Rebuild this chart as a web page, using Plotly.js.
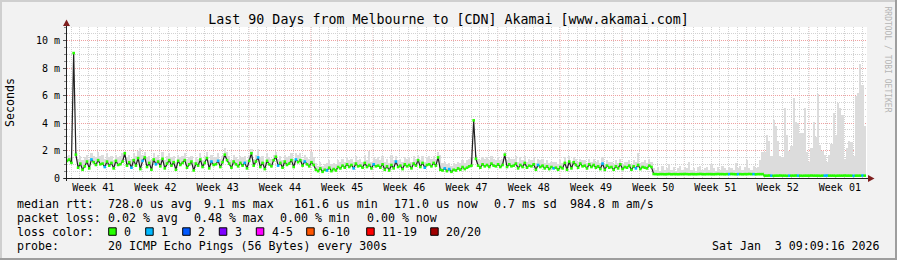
<!DOCTYPE html>
<html>
<head>
<meta charset="utf-8">
<script src="https://cdn.plot.ly/plotly-3.0.1.min.js"></script>
<style>
html,body{margin:0;padding:0;background:#f2f2f2;}
#chart{width:897px;height:260px;}
</style>
</head>
<body>
<div id="chart"></div>
<script>
// ---------------- DATA ----------------
// one sample every 6 hours (0.25 day), 90 days -> 360 samples, values in ms
const stepDays = 0.25;

const median = [
  1.25,1.35,1.1,9.1,1.7,0.75,1.05,0.6,0.85,1.2,0.7,1.35,1.15,0.95,1.3,1.0,1.05,0.8,1.2,0.9,1.1,0.7,1.25,0.95,1.0,1.2,1.8,0.9,
  1.15,0.75,1.3,0.9,1.45,0.65,1.25,1.5,0.8,1.1,0.6,1.35,1.0,1.2,0.85,1.4,0.7,1.05,1.3,0.9,1.15,0.6,1.25,0.95,1.1,1.3,0.75,1.0,
  1.2,0.55,1.05,0.9,1.35,0.8,1.1,1.45,0.7,1.2,0.95,1.0,1.25,0.8,1.15,1.7,1.3,1.05,0.75,1.2,1.0,0.85,1.1,0.9,1.1,0.7,1.25,1.8,
  0.9,1.2,1.5,0.8,1.1,0.65,1.25,1.0,0.85,1.3,1.55,0.9,1.1,0.75,1.2,0.95,1.05,1.3,0.8,1.35,1.15,1.3,0.9,1.2,1.0,0.85,1.15,0.95,
  0.6,0.5,0.7,0.45,0.6,0.55,0.75,0.5,0.65,0.55,0.8,0.7,0.9,0.75,1.0,0.8,0.95,0.7,1.05,0.85,0.9,0.75,1.1,0.8,0.95,0.7,1.0,0.85,
  0.9,0.75,1.0,0.6,0.85,0.55,0.95,0.7,1.2,0.8,0.9,0.65,1.0,0.85,0.95,0.7,1.05,0.9,1.3,0.8,1.1,0.75,0.95,1.0,0.85,1.1,0.9,1.5,
  0.6,0.55,0.7,0.5,0.65,0.45,0.6,0.55,0.7,0.6,0.8,0.65,0.75,0.85,0.9,4.2,1.4,0.9,0.75,1.0,0.85,0.95,0.8,1.05,0.9,0.85,1.0,0.8,
  0.95,1.7,0.8,1.0,0.85,0.9,1.05,0.7,0.95,0.8,1.1,0.75,0.9,0.85,1.0,0.6,0.95,0.8,0.9,0.7,0.85,0.65,0.8,0.7,0.75,0.6,0.8,0.7,
  1.1,0.6,1.2,0.7,1.15,0.95,0.75,1.05,0.85,0.9,0.7,1.0,0.8,0.95,0.75,0.85,0.65,1.05,0.6,0.9,0.75,0.8,0.6,0.85,0.7,1.0,0.65,0.8,
  0.75,0.9,0.6,0.85,0.7,0.95,0.65,0.8,0.75,0.7,0.9,0.8,
  0.29,0.28,0.27,0.28,0.28,0.27,0.28,0.29,0.27,0.28,0.28,0.27,0.28,0.28,0.29,0.28,0.27,0.28,0.28,0.27,
  0.28,0.29,0.28,0.27,0.28,0.28,0.28,0.27,0.28,0.29,0.28,0.28,0.27,0.28,0.28,0.29,0.28,0.27,0.28,0.28,
  0.27,0.28,0.28,0.29,0.28,0.28,0.27,0.28,0.28,0.28,
  0.17,0.17,0.18,0.17,0.16,0.17,0.17,0.18,0.17,0.17,0.16,0.17,0.17,0.17,0.18,0.17,0.17,0.16,0.17,0.17,
  0.17,0.18,0.17,0.17,0.17,0.16,0.17,0.17,0.18,0.17,0.17,0.17,0.16,0.17,0.17,0.17,0.18,0.17,0.17,0.17,
  0.16,0.17,0.17,0.17,0.18,0.17
];

// top of the grey "smoke" (slowest pings) per sample, ms
const smokeTop = [
  1.6,1.7,1.5,9.1,1.9,1.4,1.6,1.3,1.5,1.7,1.4,1.8,1.6,1.5,1.9,1.6,1.7,1.4,1.8,1.5,1.6,1.3,1.7,1.5,1.6,1.8,2.0,1.5,
  1.7,1.4,1.8,1.6,2.0,2.2,1.7,1.9,1.5,1.6,1.3,1.8,1.5,1.7,1.4,1.9,1.3,1.6,1.8,1.5,1.6,1.2,1.7,1.5,1.6,1.8,1.4,1.5,
  1.6,1.2,1.5,1.4,1.8,1.3,1.6,1.9,1.3,1.7,1.5,1.5,1.8,1.4,1.6,2.2,1.9,1.6,1.3,1.7,1.5,1.4,1.6,1.5,1.6,1.3,1.7,2.1,
  1.4,1.7,2.1,1.5,1.6,1.2,1.8,1.5,1.4,1.7,1.9,1.4,1.6,1.3,1.7,1.5,1.6,1.8,1.3,1.8,1.7,1.8,1.4,1.7,1.5,1.4,1.9,1.5,
  1.1,0.9,1.2,0.9,1.0,1.1,1.3,1.0,1.1,1.0,1.3,1.2,1.4,1.2,1.5,1.3,1.4,1.2,1.6,1.3,1.4,1.2,1.7,1.3,2.0,1.2,1.5,1.4,
  1.5,1.3,1.6,1.2,1.4,1.1,1.7,1.3,1.6,1.3,1.4,1.2,1.5,1.4,1.5,1.2,1.6,1.4,1.7,1.3,1.6,1.2,1.5,1.6,1.4,1.6,1.4,1.9,
  1.7,1.1,1.2,1.0,1.1,0.9,1.1,1.0,1.2,1.1,1.3,1.1,1.3,1.4,1.5,4.2,1.7,1.4,1.3,1.5,1.4,1.5,1.3,1.6,1.4,1.3,1.5,1.3,
  1.4,1.9,1.3,1.5,1.4,1.4,1.6,1.2,1.5,1.3,1.6,1.2,1.4,1.3,1.5,1.1,1.4,1.3,1.4,1.1,1.3,1.1,1.2,1.2,1.2,1.0,1.3,1.1,
  1.5,1.2,1.6,1.2,1.5,1.4,1.2,1.4,1.3,1.3,1.1,1.4,1.2,1.4,1.2,1.3,1.1,1.5,1.0,1.3,1.2,1.2,1.0,1.3,1.1,1.4,1.0,1.2,
  1.2,1.3,1.0,1.3,1.2,1.8,1.1,1.2,1.3,1.1,1.4,1.2,
  0.7,0.6,0.8,0.5,0.9,0.6,0.7,1.0,0.6,0.8,0.5,0.7,0.9,0.6,0.8,0.7,1.2,0.6,0.7,0.5,
  0.8,0.9,0.6,0.7,0.8,0.6,1.0,0.7,0.5,0.8,0.6,0.9,0.7,0.6,0.8,0.7,0.6,1.1,0.7,0.9,
  0.6,0.8,1.3,0.7,0.6,0.9,0.7,0.8,1.3,1.9,
  1.9,3.1,2.7,1.6,4.2,3.8,2.7,1.6,1.5,5.1,3.1,2.0,2.3,5.8,4.1,4.0,3.3,3.3,5.1,1.9,
  1.2,2.2,4.1,3.0,6.1,2.4,2.0,1.7,1.2,1.7,2.5,4.7,3.1,5.5,5.1,4.6,1.4,2.2,2.7,2.6,
  1.6,6.0,6.2,8.3,6.8,3.8
];

// packet loss level per sample (index into lossColors)
const loss = [
  0,0,0,0,0,0,0,0,0,0,0,1,0,0,0,0,0,1,0,0,0,0,0,0,0,0,0,0,
  0,1,0,0,0,0,1,0,0,0,0,0,1,0,0,0,0,0,0,0,0,0,0,0,0,0,0,0,
  0,0,0,0,0,0,0,0,0,1,0,0,1,0,0,0,0,0,0,0,0,0,0,0,1,0,0,0,
  0,0,1,0,0,0,0,0,0,0,0,1,0,0,0,0,0,0,0,1,0,0,0,1,0,0,0,0,
  0,0,0,0,0,1,0,0,0,0,0,0,0,0,0,0,0,1,0,0,0,0,0,0,0,0,1,0,
  0,0,0,0,0,0,0,0,1,0,0,0,0,0,0,0,0,0,0,0,0,1,0,0,0,0,0,0,
  0,0,1,0,1,0,0,0,0,0,0,0,0,0,0,0,0,0,0,0,0,0,0,0,0,0,0,0,
  0,0,0,0,0,0,0,0,0,0,0,0,0,0,0,0,1,0,0,0,0,0,0,1,0,0,0,0,
  0,0,0,0,0,0,0,0,0,0,0,0,0,0,0,0,0,1,0,0,0,0,0,0,0,0,0,0,
  0,0,0,0,1,0,0,0,0,0,0,0,
  0,0,0,0,0,0,0,0,0,0,0,0,0,0,0,0,0,0,0,0,0,0,0,0,0,0,0,0,0,0,
  0,0,0,0,1,0,0,0,1,0,0,0,0,0,0,1,0,0,0,0,
  0,0,0,1,0,0,0,0,0,0,0,1,0,0,0,1,0,0,0,0,0,0,0,0,0,0,0,1,1,0,
  0,0,0,0,0,0,0,0,0,0,1,0,0,0,1,0
];

const lossLabels = ['0','1','2','3','4-5','6-10','11-19','20/20'];
const lossColors = ['#26ff00','#00b8ff','#0059ff','#7e00ff','#ff00ff','#ff5500','#ff0000','#a00000'];

const weekLabels = ['Week 41','Week 42','Week 43','Week 44','Week 45','Week 46','Week 47',
                    'Week 48','Week 49','Week 50','Week 51','Week 52','Week 01'];
const weekMid    = [2.95,9.95,16.95,23.95,30.95,37.95,44.95,51.95,58.95,65.95,72.95,79.95,86.95];
const weekStarts = [6.45,13.45,20.45,27.45,34.45,41.45,48.45,55.45,62.45,69.45,76.45,83.45];

const yTickVals = [0,2,4,6,8,10];
const yTickText = ['0','2 m','4 m','6 m','8 m','10 m'];

const titleText = 'Last 90 Days from Melbourne to [CDN] Akamai [www.akamai.com]';
const rttStats  = ['728.0 us avg','9.1 ms max','161.6 us min','171.0 us now','0.7 ms sd','984.8 m am/s'];
const lossStats = ['0.02 % avg','0.48 % max','0.00 % min','0.00 % now'];
const probeText = '20 ICMP Echo Pings (56 Bytes) every 300s';
const dateText  = 'Sat Jan  3 09:09:16 2026';

// ---------------- LAYOUT HELPERS ----------------
const W = 897, H = 260, L = 67, R = 30, T = 27, B = 82;
const PW = W - L - R, PH = H - T - B;
const px = x => (x - L) / PW;
const py = y => 1 - (y - T) / PH;
const MONO = 'DejaVu Sans Mono, monospace';
const minorGrid = '#d2d2d2';
const majorGrid = '#eea0a0';
const dots = '1px,1px';
const LEG = 11.6;

const days = median.map((_, i) => i * stepDays);
const smokeHeight = smokeTop.map((t, i) => t - median[i]);

const traces = [
  { type: 'bar', x: days, y: smokeHeight, base: median, width: stepDays,
    marker: { color: '#dcdcdc', line: { width: 0 } }, hoverinfo: 'skip' },
  { type: 'scatter', mode: 'lines', x: days, y: median,
    line: { color: '#202020', width: 1.2, shape: 'linear' }, hoverinfo: 'skip' },
  { type: 'scatter', mode: 'markers', x: days, y: median,
    marker: { symbol: 'square', size: 2.6, color: loss.map(l => lossColors[l]), line: { width: 0 } },
    hoverinfo: 'skip' }
];

const shapes = [];
// weekly (major) vertical grid
weekStarts.forEach(d => shapes.push({ type: 'line', xref: 'x', yref: 'paper', x0: d, x1: d, y0: 0, y1: 1,
  line: { color: majorGrid, width: 1, dash: dots }, layer: 'below' }));
// frame
const rectPx = (x0, y0, x1, y1, c) => ({ type: 'rect', xref: 'paper', yref: 'paper',
  x0: px(x0), x1: px(x1), y0: py(y1), y1: py(y0), fillcolor: c, line: { width: 0 }, layer: 'above' });
shapes.push(rectPx(0, 0, W, 2, '#cfcfcf'));
shapes.push(rectPx(0, 0, 2, H, '#cfcfcf'));
shapes.push(rectPx(0, H - 2, W, H, '#9e9e9e'));
shapes.push(rectPx(W - 2, 0, W, H, '#9e9e9e'));
// axes lines + arrows
shapes.push({ type: 'line', xref: 'paper', yref: 'paper', x0: px(64), x1: px(869), y0: py(178.5), y1: py(178.5),
  line: { color: '#1f1f1f', width: 1 }, layer: 'above' });
shapes.push({ type: 'line', xref: 'paper', yref: 'paper', x0: px(66.5), x1: px(66.5), y0: py(181), y1: py(22),
  line: { color: '#1f1f1f', width: 1 }, layer: 'above' });
const pathPx = pts => 'M' + pts.map(p => px(p[0]) + ',' + py(p[1])).join(' L') + ' Z';
shapes.push({ type: 'path', xref: 'paper', yref: 'paper', path: pathPx([[63, 26], [70, 26], [66.5, 19.5]]),
  fillcolor: '#7f1f1f', line: { width: 0 }, layer: 'above' });
shapes.push({ type: 'path', xref: 'paper', yref: 'paper', path: pathPx([[868, 175], [868, 182], [874.5, 178.5]]),
  fillcolor: '#7f1f1f', line: { width: 0 }, layer: 'above' });

// legend colour boxes
const boxX = [108.7, 145.7, 182.7, 219.3, 256.3, 306.7, 366.7, 430.7];
boxX.forEach((x, i) => shapes.push({ type: 'rect', xref: 'paper', yref: 'paper',
  x0: px(x), x1: px(x + 7.5), y0: py(235.3), y1: py(227.8),
  fillcolor: lossColors[i], line: { color: '#000', width: 1 }, layer: 'above' }));

const annotations = [];
const txt = (x, y, text, opts) => Object.assign({ xref: 'paper', yref: 'paper', x: px(x), y: py(y), text: text,
  showarrow: false, xanchor: 'left', yanchor: 'middle', borderpad: 0,
  font: { family: MONO, size: LEG, color: '#000' } }, opts || {});

const rttX = [107.3, 203.3, 293.3, 393.3, 493, 569];
annotations.push(txt(16, 204, 'median rtt:'));
rttStats.forEach((s, i) => annotations.push(txt(rttX[i], 204, s)));
const lossX = [107.3, 193.3, 279.3, 365.7];
annotations.push(txt(16, 218.3, 'packet loss:'));
lossStats.forEach((s, i) => annotations.push(txt(lossX[i], 218.3, s)));
annotations.push(txt(16, 232, 'loss color:'));
lossLabels.forEach((s, i) => annotations.push(txt(boxX[i] + 14.5, 232, s)));
annotations.push(txt(16, 246, 'probe:'));
annotations.push(txt(107.3, 246, probeText));
annotations.push(txt(881, 246, dateText, { xanchor: 'right' }));
annotations.push(txt(887.5, 59, 'RRDTOOL / TOBI OETIKER',
  { xanchor: 'center', textangle: 90, font: { family: MONO, size: 8, color: '#b5b5b5' } }));

const layout = {
  width: W, height: H,
  margin: { l: L, r: R, t: T, b: B, pad: 0 },
  paper_bgcolor: '#f2f2f2', plot_bgcolor: '#ffffff',
  showlegend: false, bargap: 0, barmode: 'overlay',
  title: { text: titleText, font: { family: MONO, size: 13.3, color: '#000' },
    x: 0.5, xref: 'container', xanchor: 'center', y: 1 - 19 / H, yref: 'container', yanchor: 'middle' },
  xaxis: { range: [0, 90], tickmode: 'array', tickvals: weekMid, ticktext: weekLabels,
    showgrid: false, zeroline: false, showline: false, ticks: '', ticklabelstandoff: 2,
    tickfont: { family: MONO, size: 10, color: '#000' }, automargin: false,
    minor: { tickmode: 'linear', tick0: 0.45, dtick: 1, showgrid: true, gridcolor: minorGrid,
      griddash: dots, gridwidth: 1, ticks: '' } },
  yaxis: { range: [0, 11], tickmode: 'array', tickvals: yTickVals, ticktext: yTickText,
    showgrid: true, gridcolor: majorGrid, griddash: dots, gridwidth: 1, zeroline: false, showline: false,
    ticks: 'outside', ticklen: 3, tickcolor: '#555', ticklabelstandoff: 1,
    tickfont: { family: MONO, size: 10, color: '#000' }, automargin: false,
    minor: { tickmode: 'linear', tick0: 0, dtick: 0.5, showgrid: true, gridcolor: minorGrid,
      griddash: dots, gridwidth: 1, ticks: 'outside', ticklen: 2, tickcolor: '#888' },
    title: { text: 'Seconds', font: { family: MONO, size: 11.6, color: '#000' }, standoff: 18 } },
  shapes: shapes,
  annotations: annotations
};

Plotly.newPlot('chart', traces, layout, { displayModeBar: false, staticPlot: true });
</script>
</body>
</html>
